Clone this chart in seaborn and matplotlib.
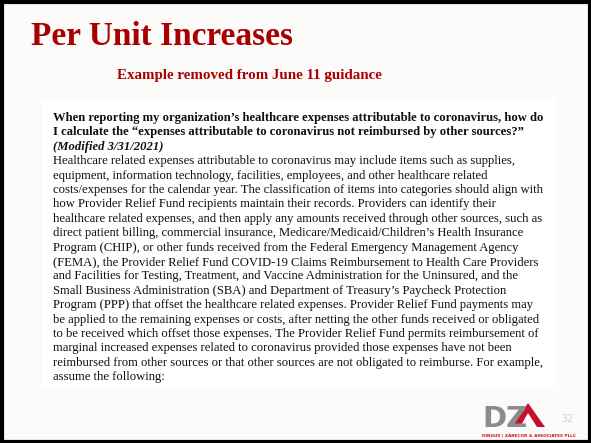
import matplotlib
matplotlib.use("Agg")
import matplotlib.pyplot as plt
import seaborn as sns
from matplotlib.patches import Rectangle, Polygon

sns.set_theme(style="white")
plt.rcParams['font.family'] = ['Liberation Serif', 'DejaVu Serif']

title = "Per Unit Increases"
subtitle = "Example removed from June 11 guidance"
bold_lines = [
    "When reporting my organization\u2019s healthcare expenses attributable to coronavirus, how do",
    "I calculate the \u201cexpenses attributable to coronavirus not reimbursed by other sources?\u201d",
]
italic_line = "(Modified 3/31/2021)"
body_lines = [
    "Healthcare related expenses attributable to coronavirus may include items such as supplies,",
    "equipment, information technology, facilities, employees, and other healthcare related",
    "costs/expenses for the calendar year. The classification of items into categories should align with",
    "how Provider Relief Fund recipients maintain their records. Providers can identify their",
    "healthcare related expenses, and then apply any amounts received through other sources, such as",
    "direct patient billing, commercial insurance, Medicare/Medicaid/Children\u2019s Health Insurance",
    "Program (CHIP), or other funds received from the Federal Emergency Management Agency",
    "(FEMA), the Provider Relief Fund COVID-19 Claims Reimbursement to Health Care Providers",
    "and Facilities for Testing, Treatment, and Vaccine Administration for the Uninsured, and the",
    "Small Business Administration (SBA) and Department of Treasury\u2019s Paycheck Protection",
    "Program (PPP) that offset the healthcare related expenses. Provider Relief Fund payments may",
    "be applied to the remaining expenses or costs, after netting the other funds received or obligated",
    "to be received which offset those expenses. The Provider Relief Fund permits reimbursement of",
    "marginal increased expenses related to coronavirus provided those expenses have not been",
    "reimbursed from other sources or that other sources are not obligated to reimburse. For example,",
    "assume the following:",
]
page_number = "32"
logo_name = "DINGUS | ZARECOR & ASSOCIATES PLLC"

RED = "#A80000"

fig = plt.figure(figsize=(5.91, 4.43), dpi=100)
fig.patch.set_facecolor("#FCFBF9")
ax = fig.add_axes([0, 0, 1, 1])
ax.set_xlim(0, 591)
ax.set_ylim(443, 0)
ax.axis("off")

# slide border
ax.add_patch(Rectangle((1.5, 1.5), 588, 440, fill=False, edgecolor="black", lw=3))
# white text box
ax.add_patch(Rectangle((42, 99), 514, 288, facecolor="white", edgecolor="none"))

ax.text(31, 45, title, color=RED, fontsize=24, fontweight="bold", va="baseline", ha="left")
ax.text(249, 79, subtitle, color=RED, fontsize=10.8, fontweight="bold", va="baseline", ha="center")

fs = 9.1
y0 = 121
dy = 14.4
lines = [(l, "bold", "normal") for l in bold_lines] + [(italic_line, "bold", "italic")] + \
        [(l, "normal", "normal") for l in body_lines]
for i, (txt, w, st) in enumerate(lines):
    ax.text(53, y0 + i * dy, txt, fontsize=fs, fontweight=w, fontstyle=st,
            color="#111111", va="baseline", ha="left")

# logo
ax.text(482, 427, "DZ", fontsize=21, fontweight="bold", color="#8C8C8C",
        family="DejaVu Sans", va="baseline", ha="left")
ax.add_patch(Polygon([[512, 427], [528, 403], [545, 427], [537, 427], [528, 413], [520, 427]],
                     closed=True, facecolor="#C8102E", edgecolor="none"))
ax.text(529, 436, logo_name, fontsize=3.1, fontweight="bold", color="#C8102E",
        family="DejaVu Sans", va="baseline", ha="center")
ax.text(567, 422, page_number, fontsize=7, color="#D0D0D0", family="DejaVu Sans",
        va="baseline", ha="center")

fig.savefig("out.png", dpi=100, facecolor=fig.get_facecolor())
